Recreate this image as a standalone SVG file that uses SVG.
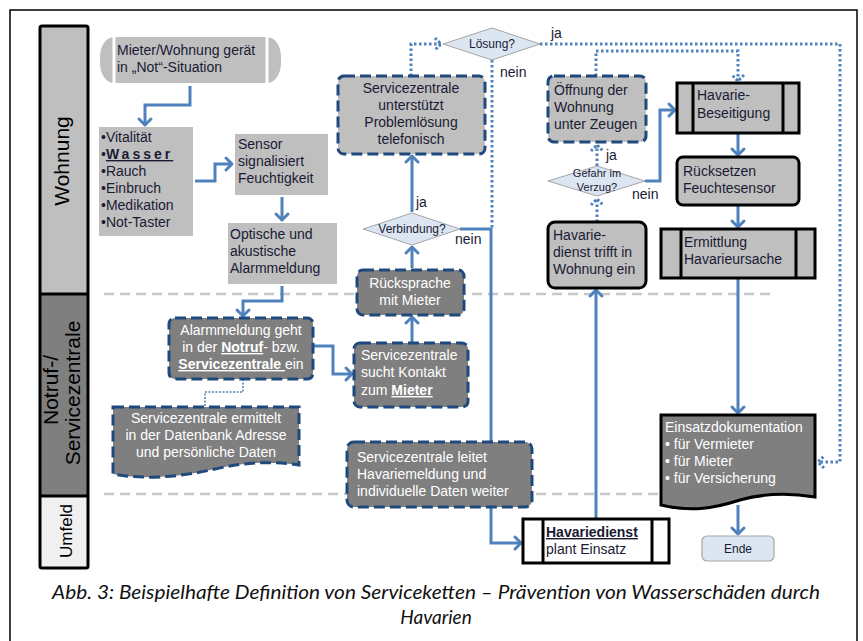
<svg xmlns="http://www.w3.org/2000/svg" width="863" height="641" viewBox="0 0 863 641">
<style>
.t{font-family:"Liberation Sans",Arial,sans-serif;font-size:14px;fill:#1a1a33}
.s12{font-size:12px}
.s11{font-size:11px}
.w{fill:#ffffff}
.b{font-weight:bold;text-decoration:underline}
.mid{text-anchor:middle}
.light{fill:#bfbfbf}
.dark{fill:#7f7f7f}
.dbox{stroke:#1f497d;stroke-width:3;stroke-dasharray:11 5}
.blk{stroke:#000;stroke-width:3}
.conn{fill:none;stroke:#4f81bd;stroke-width:3}
.dot{stroke-dasharray:2.5 2.5}
.diam{fill:#dce6f2;stroke:#a6a6a6;stroke-width:1}
.lane{stroke:#c8c8c8;stroke-width:2.5;stroke-dasharray:10 6}
.lbl{font-family:"Liberation Sans",Arial,sans-serif;fill:#000}
.cap{font-family:Lato,"Open Sans",sans-serif;font-style:italic;font-size:19px;fill:#111}
</style>
<defs>
<marker id="ah" viewBox="-8 -8 10 16" markerWidth="10" markerHeight="16" markerUnits="userSpaceOnUse" orient="auto" refX="0" refY="0" overflow="visible">
<path d="M-6,-6 L0,0 L-6,6" fill="none" stroke="#4f81bd" stroke-width="3" stroke-linecap="round" stroke-linejoin="round"/>
</marker>
<marker id="ahd" viewBox="-8 -8 10 16" markerWidth="10" markerHeight="16" markerUnits="userSpaceOnUse" orient="auto" refX="0" refY="0" overflow="visible">
<path d="M-6,-6 L0,0 L-6,6" fill="none" stroke="#4f81bd" stroke-width="3" stroke-dasharray="2.5 2"/>
</marker>
</defs>
<rect x="0" y="0" width="863" height="641" fill="#fff"/>
<rect x="10" y="10" width="847" height="660" fill="#fff" stroke="#000" stroke-width="1.5"/>

<g id="lanes">
<rect x="40" y="26" width="48" height="268" fill="#bfbfbf"/>
<rect x="40" y="294" width="48" height="202" fill="#7f7f7f"/>
<rect x="40" y="496" width="48" height="72" fill="#f0f0f0"/>
<line x1="40" y1="294" x2="88" y2="294" stroke="#000" stroke-width="3"/>
<line x1="40" y1="496" x2="88" y2="496" stroke="#000" stroke-width="3"/>
<rect x="40" y="26" width="48" height="542" rx="2" fill="none" stroke="#000" stroke-width="3"/>
<text class="lbl mid" font-size="21" transform="translate(69,161) rotate(-90)">Wohnung</text>
<text class="lbl mid w" font-size="21" transform="translate(58,390) rotate(-90)">Notruf-/</text>
<text class="lbl mid w" font-size="21" transform="translate(80,393) rotate(-90)">Servicezentrale</text>
<text class="lbl mid" font-size="17" transform="translate(72,531) rotate(-90)">Umfeld</text>
<line class="lane" x1="104" y1="294" x2="773" y2="294"/>
<line class="lane" x1="104" y1="494" x2="660" y2="494"/>
</g>

<g id="connectors">
<path class="conn" d="M190,86 V105 H145 V125" marker-end="url(#ah)"/>
<path class="conn" d="M195,181 H215 V164 H232" marker-end="url(#ah)"/>
<path class="conn" d="M282,197 V220" marker-end="url(#ah)"/>
<path class="conn" d="M282,286 V301 H243 V316" marker-end="url(#ah)"/>
<path class="conn" d="M313,346 H333 V374 H352" marker-end="url(#ah)"/>
<path class="conn" d="M412,342 V317" marker-end="url(#ah)"/>
<path class="conn" d="M412,268 V247" marker-end="url(#ah)"/>
<path class="conn" d="M412,212 V156" marker-end="url(#ah)"/>
<path class="conn" d="M460,229 H491 V442"/>
<path class="conn" d="M491,507 V543 H521" marker-end="url(#ah)"/>
<path class="conn" d="M596,519 V290" marker-end="url(#ah)"/>
<path class="conn dot" d="M597,222 V199" marker-end="url(#ahd)"/>
<path class="conn dot" d="M597,166 V145" marker-end="url(#ahd)"/>
<path class="conn" d="M645,181 H660 V110 H675" marker-end="url(#ah)"/>
<path class="conn dot" d="M596,76 V51 H738 V81" marker-end="url(#ahd)"/>
<path class="conn dot" d="M540,44 H840 V462 H818" marker-end="url(#ahd)"/>
<path class="conn dot" d="M492,60 V229"/>
<path class="conn dot" d="M411,76 V44 H441" marker-end="url(#ahd)"/>
<path class="conn" d="M738,133 V155" marker-end="url(#ah)"/>
<path class="conn" d="M738,205 V227" marker-end="url(#ah)"/>
<path class="conn" d="M738,278 V413" marker-end="url(#ah)"/>
<path class="conn" d="M738,505 V534" marker-end="url(#ah)"/>
<path d="M243,379 V392 H205 V406" fill="none" stroke="#4f81bd" stroke-width="1.5" stroke-dasharray="2 1.5"/>
<text class="t" x="416" y="207">ja</text>
<text class="t" x="455" y="244">nein</text>
<text class="t" x="606" y="160">ja</text>
<text class="t" x="632" y="199">nein</text>
<text class="t" x="551" y="38">ja</text>
<text class="t" x="500" y="77">nein</text>
</g>

<g id="n-mieter">
<rect x="100" y="37" width="181" height="46" rx="14" ry="20" class="light"/>
<line x1="114" y1="36" x2="114" y2="84" stroke="#fff" stroke-width="3"/>
<line x1="267" y1="36" x2="267" y2="84" stroke="#fff" stroke-width="3"/>
<text class="t" x="117" y="55">Mieter/Wohnung gerät</text>
<text class="t" x="117" y="72">in „Not“-Situation</text>
</g>

<g id="n-liste">
<rect x="99" y="127" width="94" height="109" class="light"/>
<text class="t" x="101" y="142">•Vitalität</text>
<text class="t" x="101" y="159">•<tspan font-weight="bold" text-decoration="underline" letter-spacing="3">Wasser</tspan></text>
<text class="t" x="101" y="176">•Rauch</text>
<text class="t" x="101" y="193">•Einbruch</text>
<text class="t" x="101" y="210">•Medikation</text>
<text class="t" x="101" y="227">•Not-Taster</text>
</g>

<g id="n-sensor">
<rect x="235" y="134" width="93" height="61" class="light"/>
<text class="t" x="238" y="149">Sensor</text>
<text class="t" x="238" y="166">signalisiert</text>
<text class="t" x="238" y="183">Feuchtigkeit</text>
</g>

<g id="n-optisch">
<rect x="228" y="223" width="109" height="61" class="light"/>
<text class="t" x="230" y="239">Optische und</text>
<text class="t" x="230" y="256">akustische</text>
<text class="t" x="230" y="273">Alarmmeldung</text>
</g>

<g id="n-alarm">
<rect x="169" y="318" width="144" height="61" rx="6" class="dark dbox"/>
<text class="t w mid" x="241" y="335">Alarmmeldung geht</text>
<text class="t w mid" x="241" y="352">in der <tspan class="b">Notruf</tspan>- bzw.</text>
<text class="t w mid" x="241" y="369"><tspan class="b">Servicezentrale </tspan>ein</text>
</g>

<g id="n-ermittelt">
<path d="M113,407 H299 V465 C270,461 245,462 215,469 C180,477 145,480 113,474 Z" class="dark dbox"/>
<text class="t w mid" x="206" y="423">Servicezentrale ermittelt</text>
<text class="t w mid" x="206" y="440">in der Datenbank Adresse</text>
<text class="t w mid" x="206" y="457">und persönliche Daten</text>
</g>

<g id="n-kontakt">
<rect x="354" y="343" width="114" height="64" rx="6" class="dark dbox"/>
<text class="t w" x="361" y="360">Servicezentrale</text>
<text class="t w" x="361" y="377">sucht Kontakt</text>
<text class="t w" x="361" y="395">zum <tspan class="b">Mieter</tspan></text>
</g>

<g id="n-ruecksprache">
<rect x="357" y="270" width="107" height="45" rx="6" class="dark dbox"/>
<text class="t w mid" x="410" y="288">Rücksprache</text>
<text class="t w mid" x="410" y="305">mit Mieter</text>
</g>

<g id="n-verbindung">
<polygon points="363,229 412,213 460,229 412,245" class="diam"/>
<text class="t s12 mid" x="412" y="233">Verbindung?</text>
</g>

<g id="n-telefon">
<rect x="338" y="76" width="147" height="78" rx="6" class="light dbox"/>
<text class="t mid" x="411" y="93">Servicezentrale</text>
<text class="t mid" x="411" y="110">unterstützt</text>
<text class="t mid" x="411" y="127">Problemlösung</text>
<text class="t mid" x="411" y="144">telefonisch</text>
</g>

<g id="n-loesung">
<polygon points="443,44 492,28 540,44 492,60" class="diam"/>
<text class="t s12 mid" x="492" y="48">Lösung?</text>
</g>

<g id="n-oeffnung">
<rect x="548" y="76" width="98" height="66" rx="6" class="light dbox"/>
<text class="t" x="554" y="95">Öffnung der</text>
<text class="t" x="554" y="112">Wohnung</text>
<text class="t" x="554" y="129">unter Zeugen</text>
</g>

<g id="n-gefahr">
<polygon points="548,181 597,166 645,181 597,196" class="diam"/>
<text class="t s11 mid" x="597" y="177">Gefahr im</text>
<text class="t s11 mid" x="597" y="191">Verzug?</text>
</g>

<g id="n-trifft">
<rect x="548" y="222" width="98" height="66" rx="7" class="light blk"/>
<text class="t" x="553" y="240">Havarie-</text>
<text class="t" x="553" y="257">dienst trifft in</text>
<text class="t" x="553" y="274">Wohnung ein</text>
</g>

<g id="n-beseitigung">
<rect x="677" y="83" width="122" height="50" class="light blk"/>
<line x1="693" y1="83" x2="693" y2="133" class="blk"/>
<line x1="783" y1="83" x2="783" y2="133" class="blk"/>
<text class="t" x="697" y="100">Havarie-</text>
<text class="t" x="697" y="118">Beseitigung</text>
</g>

<g id="n-ruecksetzen">
<rect x="677" y="157" width="122" height="48" rx="6" class="light blk"/>
<text class="t" x="683" y="176">Rücksetzen</text>
<text class="t" x="683" y="193">Feuchtesensor</text>
</g>

<g id="n-ermittlung">
<rect x="661" y="229" width="154" height="49" class="light blk"/>
<line x1="681" y1="229" x2="681" y2="278" class="blk"/>
<line x1="796" y1="229" x2="796" y2="278" class="blk"/>
<text class="t" x="684" y="247">Ermittlung</text>
<text class="t" x="684" y="264">Havarieursache</text>
</g>

<g id="n-doku">
<path d="M661,415 H815 V497 C790,493 765,493 740,500 C712,509 690,512 661,505 Z" class="dark blk"/>
<text class="t w" x="665" y="432">Einsatzdokumentation</text>
<text class="t w" x="665" y="449">• für Vermieter</text>
<text class="t w" x="665" y="466">• für Mieter</text>
<text class="t w" x="665" y="483">• für Versicherung</text>
</g>

<g id="n-ende">
<rect x="702" y="536" width="72" height="25" rx="5" fill="#dce6f2" stroke="#a6a6a6" stroke-width="1.2"/>
<text class="t s12 mid" x="738" y="553">Ende</text>
</g>

<g id="n-plant">
<rect x="523" y="519" width="146" height="44" fill="#fff" class="blk"/>
<line x1="543" y1="519" x2="543" y2="563" class="blk"/>
<line x1="652" y1="519" x2="652" y2="563" class="blk"/>
<text class="t" x="546" y="537"><tspan class="b">Havariedienst</tspan></text>
<text class="t" x="546" y="554">plant Einsatz</text>
</g>

<g id="n-leitet">
<rect x="347" y="442" width="185" height="65" rx="7" class="dark dbox"/>
<text class="t w" x="357" y="462">Servicezentrale leitet</text>
<text class="t w" x="357" y="479">Havariemeldung und</text>
<text class="t w" x="357" y="496">individuelle Daten weiter</text>
</g>

<g id="caption">
<text class="cap" x="52" y="599" textLength="768" lengthAdjust="spacingAndGlyphs">Abb. 3: Beispielhafte Definition von Serviceketten – Prävention von Wasserschäden durch</text>
<text class="cap mid" x="436" y="624">Havarien</text>
</g>
</svg>
